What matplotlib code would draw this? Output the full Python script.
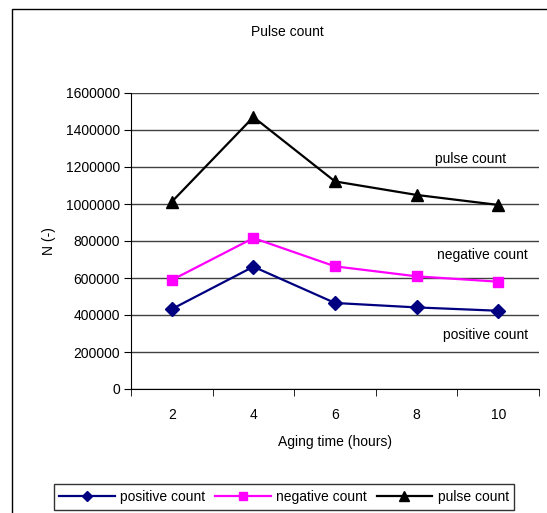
import matplotlib
matplotlib.use('Agg')
import matplotlib.pyplot as plt
from matplotlib.patches import Rectangle

plt.rcParams['font.family'] = ['Liberation Sans', 'DejaVu Sans']
plt.rcParams['font.size'] = 10

hours = [2, 4, 6, 8, 10]
positive = [432000, 661000, 465000, 441000, 423000]
negative = [589000, 816000, 663000, 609000, 580000]
pulse = [1012000, 1470000, 1122000, 1049000, 995000]
yticks = [0, 200000, 400000, 600000, 800000, 1000000, 1200000, 1400000, 1600000]

fig = plt.figure(figsize=(5.47, 5.13), dpi=100)
ax = fig.add_axes([131/547, 1-389/513, (539-131)/547, (389-93)/513])

# outer chart border (Excel style), right and bottom edges fall outside the image
fig.patches.append(Rectangle((12/547, -0.5), 2.0, (513-9)/513 + 0.5, transform=fig.transFigure,
                             fill=False, edgecolor='black', lw=1))

ax.plot(hours, positive, color='#000080', marker='D', markersize=7, lw=1.6, label='positive count')
ax.plot(hours, negative, color='#ff00ff', marker='s', markersize=7, lw=1.6, label='negative count')
ax.plot(hours, pulse, color='black', marker='^', markersize=9, lw=1.6, label='pulse count')

ax.set_ylim(0, 1600000)
ax.set_xlim(1, 11)
ax.set_yticks(yticks)
ax.set_yticklabels([str(v) for v in yticks])
ax.set_xticks(hours)
ax.set_xticks([1, 3, 5, 7, 9, 11], minor=True)
ax.tick_params(axis='x', which='major', length=0, pad=14)
ax.tick_params(axis='x', which='minor', length=5, direction='out')
ax.tick_params(axis='y', length=5, direction='out', pad=3)
ax.yaxis.grid(True, color='#404040', lw=1)
ax.set_axisbelow(True)
for s in ['top', 'right']:
    ax.spines[s].set_visible(False)

ax.set_xlabel('Aging time (hours)', labelpad=9)
ax.set_ylabel('N (-)', labelpad=7)
fig.text(287/547, 1-32/513, 'Pulse count', ha='center', va='center')

fig.text(435/547, 1-159/513, 'pulse count', va='center')
fig.text(437/547, 1-255/513, 'negative count', va='center')
fig.text(443/547, 1-335/513, 'positive count', va='center')

leg = fig.legend(loc='center', bbox_to_anchor=(284/547, 1-497/513), ncol=3, frameon=True,
                 fancybox=False, edgecolor='black', handlelength=4.0, columnspacing=0.7,
                 handletextpad=0.4, borderpad=0.4, markerscale=0.8)
leg.get_frame().set_linewidth(1)

fig.savefig('out.png', dpi=100)
